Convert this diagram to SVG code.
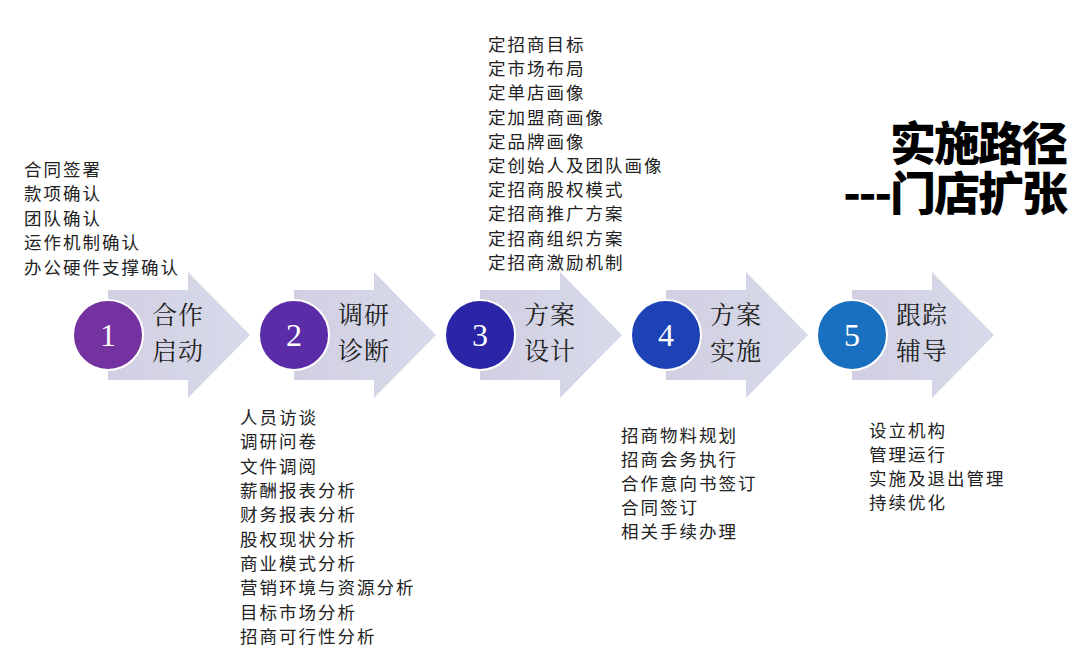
<svg xmlns="http://www.w3.org/2000/svg" width="1080" height="651" viewBox="0 0 1080 651">
<style>
.lst{font-family:"Noto Sans CJK SC",sans-serif;font-size:17.5px;letter-spacing:2px;fill:#222}
.num{font-family:"Liberation Serif",serif;font-size:32px;fill:#fff;text-anchor:middle}
.lbl{font-family:"Noto Serif CJK SC","Noto Sans CJK SC",serif;font-size:25px;letter-spacing:1px;fill:#222}
.ttl{font-family:"Noto Sans CJK SC",sans-serif;font-size:46px;font-weight:900;fill:#000;text-anchor:end;letter-spacing:-2px}
</style>
<defs>
<linearGradient id="ag" x1="0" x2="1"><stop offset="0" stop-color="#d2cfe2"/><stop offset="1" stop-color="#d6dbea"/></linearGradient>
<path id="arr" d="M0,-45 H80 V-63 L142,0 L80,63 V45 H0 Z" fill="url(#ag)"/>
</defs>
<rect width="1080" height="651" fill="#fff"/>
<g id="connectors"></g>
<g id="step1"><use href="#arr" x="108" y="335"/><circle cx="108" cy="335" r="35" fill="#7431a0" stroke="#fff" stroke-width="2"/><text class="num" x="108" y="346">1</text><text class="lbl" x="152" y="324">合作</text><text class="lbl" x="152" y="360">启动</text></g>
<g id="step2"><use href="#arr" x="294" y="335"/><circle cx="294" cy="335" r="35" fill="#5a2ca8" stroke="#fff" stroke-width="2"/><text class="num" x="294" y="346">2</text><text class="lbl" x="338" y="324">调研</text><text class="lbl" x="338" y="360">诊断</text></g>
<g id="step3"><use href="#arr" x="480" y="335"/><circle cx="480" cy="335" r="35" fill="#2a25a6" stroke="#fff" stroke-width="2"/><text class="num" x="480" y="346">3</text><text class="lbl" x="524" y="324">方案</text><text class="lbl" x="524" y="360">设计</text></g>
<g id="step4"><use href="#arr" x="666" y="335"/><circle cx="666" cy="335" r="35" fill="#1d42b6" stroke="#fff" stroke-width="2"/><text class="num" x="666" y="346">4</text><text class="lbl" x="710" y="324">方案</text><text class="lbl" x="710" y="360">实施</text></g>
<g id="step5"><use href="#arr" x="852" y="335"/><circle cx="852" cy="335" r="35" fill="#1a70c0" stroke="#fff" stroke-width="2"/><text class="num" x="852" y="346">5</text><text class="lbl" x="896" y="324">跟踪</text><text class="lbl" x="896" y="360">辅导</text></g>
<g id="list1" class="lst"><text x="24" y="176">合同签署</text><text x="24" y="200">款项确认</text><text x="24" y="225">团队确认</text><text x="24" y="249">运作机制确认</text><text x="24" y="274">办公硬件支撑确认</text></g>
<g id="list3" class="lst"><text x="488" y="51">定招商目标</text><text x="488" y="75">定市场布局</text><text x="488" y="99">定单店画像</text><text x="488" y="124">定加盟商画像</text><text x="488" y="148">定品牌画像</text><text x="488" y="172">定创始人及团队画像</text><text x="488" y="196">定招商股权模式</text><text x="488" y="220">定招商推广方案</text><text x="488" y="245">定招商组织方案</text><text x="488" y="269">定招商激励机制</text></g>
<g id="list2" class="lst"><text x="240" y="424">人员访谈</text><text x="240" y="448">调研问卷</text><text x="240" y="473">文件调阅</text><text x="240" y="497">薪酬报表分析</text><text x="240" y="521">财务报表分析</text><text x="240" y="546">股权现状分析</text><text x="240" y="570">商业模式分析</text><text x="240" y="594">营销环境与资源分析</text><text x="240" y="619">目标市场分析</text><text x="240" y="643">招商可行性分析</text></g>
<g id="list4" class="lst"><text x="621" y="442">招商物料规划</text><text x="621" y="466">招商会务执行</text><text x="621" y="490">合作意向书签订</text><text x="621" y="514">合同签订</text><text x="621" y="538">相关手续办理</text></g>
<g id="list5" class="lst"><text x="869" y="437">设立机构</text><text x="869" y="461">管理运行</text><text x="869" y="485">实施及退出管理</text><text x="869" y="509">持续优化</text></g>
<g id="title"><text class="ttl" x="1066" y="160">实施路径</text><text class="ttl" x="1066" y="210">---门店扩张</text></g>
</svg>
